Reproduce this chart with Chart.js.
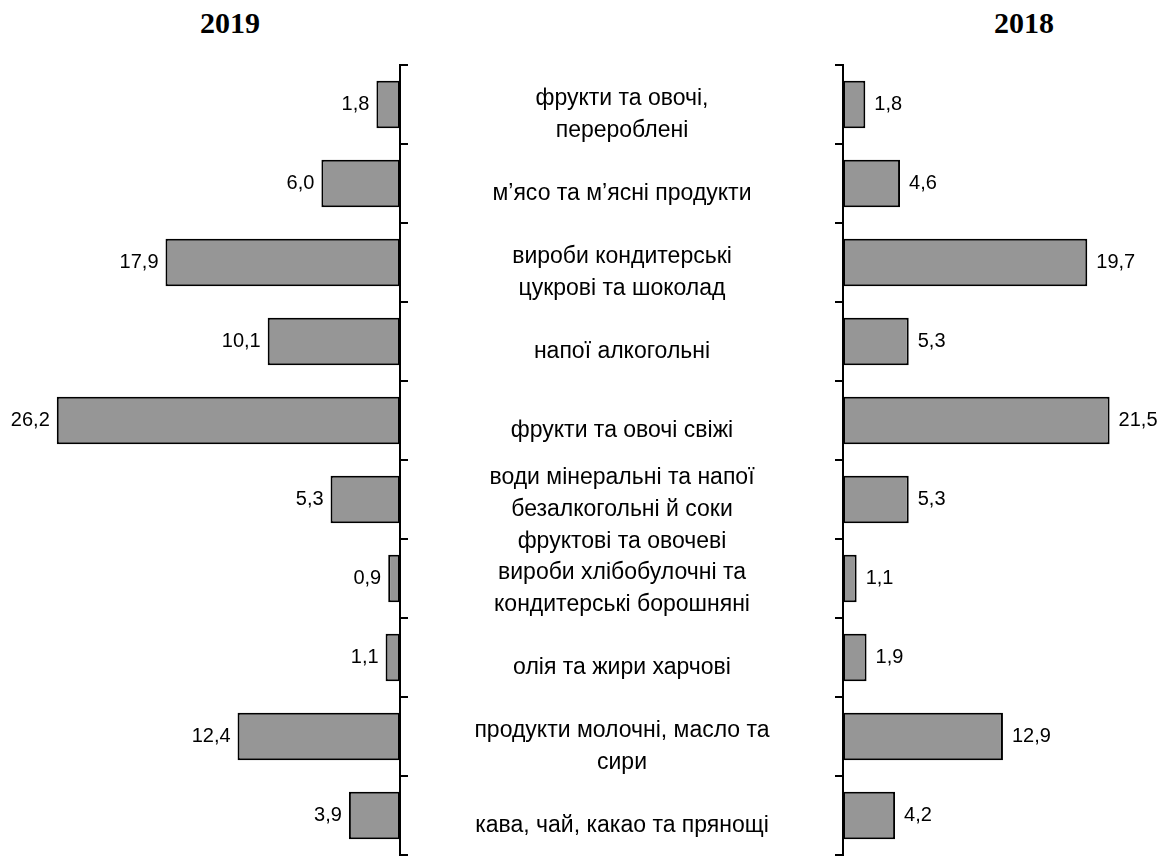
<!DOCTYPE html>
<html>
<head>
<meta charset="utf-8">
<script src="https://cdn.jsdelivr.net/npm/chart.js@4.4.1/dist/chart.umd.min.js"></script>
<style>
  body { margin: 0; background: #fff; }
  #wrap { position: relative; width: 1165px; height: 860px; }
  .year { position: absolute; top: 6px; font: bold 30px "Liberation Serif", "Times New Roman", serif; }
  #left, #right { position: absolute; top: 0; }
</style>
</head>
<body>
<div id="wrap">
  <div class="year" style="left:200px">2019</div>
  <div class="year" style="left:994px">2018</div>
  <div id="left" style="left:0;width:845px;height:860px"><canvas id="c2019"></canvas></div>
  <div id="right" style="left:800px;width:365px;height:860px"><canvas id="c2018"></canvas></div>
</div>
<script>
const categories = [
  ["фрукти та овочі,", "перероблені"],
  ["м’ясо та м’ясні продукти"],
  ["вироби кондитерські", "цукрові та шоколад"],
  ["напої алкогольні"],
  ["фрукти та овочі свіжі"],
  ["води мінеральні та напої", "безалкогольні й соки", "фруктові та овочеві"],
  ["вироби хлібобулочні та", "кондитерські борошняні"],
  ["олія та жири харчові"],
  ["продукти молочні, масло та", "сири"],
  ["кава, чай, какао та прянощі"]
];
const values2019 = [1.8, 6.0, 17.9, 10.1, 26.2, 5.3, 0.9, 1.1, 12.4, 3.9];
const values2018 = [1.8, 4.6, 19.7, 5.3, 21.5, 5.3, 1.1, 1.9, 12.9, 4.2];

const FONT = '"Liberation Sans", Arial, sans-serif';

// value labels next to the bar ends
const valueLabels = {
  id: "valueLabels",
  afterDatasetsDraw(chart, args, opts) {
    const ctx = chart.ctx;
    const meta = chart.getDatasetMeta(0);
    ctx.save();
    ctx.font = "20px " + FONT;
    ctx.fillStyle = "#000";
    ctx.textBaseline = "middle";
    ctx.textAlign = opts.side === "left" ? "right" : "left";
    meta.data.forEach((bar, i) => {
      const v = chart.data.datasets[0].data[i];
      const x = opts.side === "left" ? bar.x - 7 : bar.x + 9;
      ctx.fillText(v.toFixed(1).replace(".", ","), x, bar.y);
    });
    ctx.restore();
  }
};

// category names in the gap between the two charts
const categoryLabels = {
  id: "categoryLabels",
  afterDraw(chart, args, opts) {
    if (!opts.x) return;
    const ctx = chart.ctx;
    const yScale = chart.scales.y;
    ctx.save();
    ctx.font = "23px " + FONT;
    ctx.fillStyle = "#000";
    ctx.textAlign = "center";
    ctx.textBaseline = "middle";
    categories.forEach((lines, i) => {
      const cy = yScale.getPixelForValue(i) + 10;
      const lh = 32;
      lines.forEach((t, j) => {
        ctx.fillText(t, opts.x, cy + (j - (lines.length - 1) / 2) * lh);
      });
    });
    ctx.restore();
  }
};

function makeChart(id, values, side, max, axisWidth, padding, labelX) {
  return new Chart(document.getElementById(id), {
    type: "bar",
    data: {
      labels: categories.map(c => c.join(" ")),
      datasets: [{
        data: values,
        backgroundColor: "#969696",
        borderColor: "#000",
        borderWidth: 2,
        borderSkipped: false,
        barPercentage: 0.6,
        categoryPercentage: 1
      }]
    },
    options: {
      indexAxis: "y",
      responsive: true,
      maintainAspectRatio: false,
      animation: false,
      layout: { padding: padding },
      plugins: {
        legend: { display: false },
        tooltip: { enabled: false },
        valueLabels: { side: side },
        categoryLabels: { x: labelX }
      },
      scales: {
        x: {
          display: false,
          reverse: side === "left",
          min: 0,
          max: max
        },
        y: {
          position: side === "left" ? "right" : "left",
          ticks: { display: false },
          grid: {
            drawOnChartArea: false,
            drawTicks: true,
            tickLength: 8,
            color: "#000",
            lineWidth: 2
          },
          border: { display: true, color: "#000", width: 2 },
          afterFit(scale) { scale.width = axisWidth; }
        }
      }
    },
    plugins: [valueLabels, categoryLabels]
  });
}

makeChart("c2019", values2019, "left", 30, 445, { top: 65, bottom: 5, left: 7, right: 0 }, 622);
makeChart("c2018", values2018, "right", 25, 43, { top: 65, bottom: 5, left: 0, right: 12 }, null);
</script>
</body>
</html>
